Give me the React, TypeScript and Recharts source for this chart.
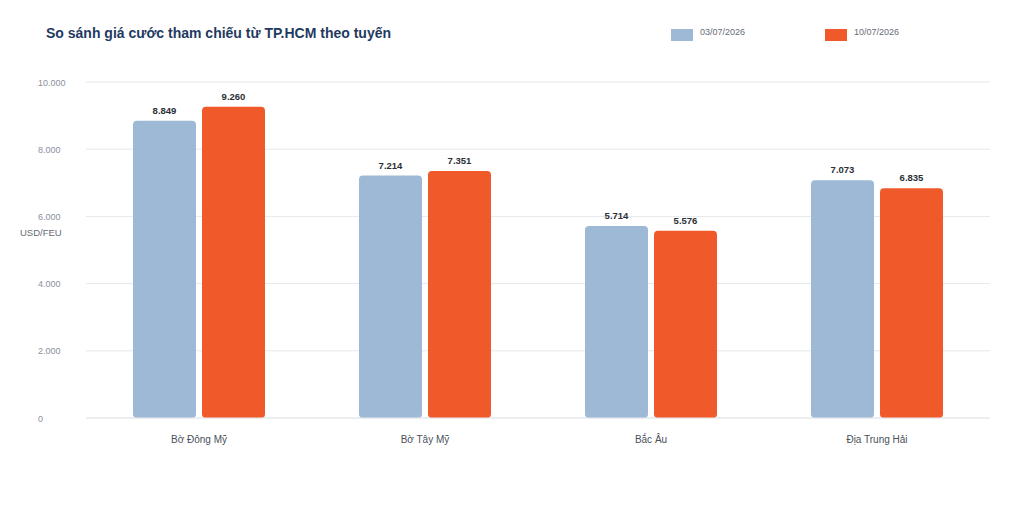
import React from "react";
import { BarChart, Bar, XAxis, YAxis, CartesianGrid, LabelList } from "recharts";

const categories = ["Bờ Đông Mỹ", "Bờ Tây Mỹ", "Bắc Âu", "Địa Trung Hải"];
const week1 = [8849, 7214, 5714, 7073];
const week2 = [9260, 7351, 5576, 6835];
const seriesNames = ["03/07/2026", "10/07/2026"];
const seriesColors = ["#9db9d6", "#f05a2a"];
const yTicks = [0, 2000, 4000, 6000, 8000, 10000];

const data = categories.map((c, i) => ({ name: c, s1: week1[i], s2: week2[i] }));

const FONT = "'Liberation Sans', Arial, Helvetica, sans-serif";
const fmt = (v: number) => v.toString().replace(/\B(?=(\d{3})+(?!\d))/g, ".");

const YTick = (props: any) => {
  const { y, payload } = props;
  return (
    <text x={38} y={y} dy={3.5} textAnchor="start" fontSize={9} fill="#8a909e" fontFamily={FONT}>
      {fmt(payload.value)}
    </text>
  );
};

export default function App() {
  return (
    <div style={{ position: "absolute", left: 0, top: 0, width: 1024, height: 512, background: "#fff", fontFamily: FONT }}>
      <div style={{ position: "absolute", left: 46, top: 25, fontSize: 14, fontWeight: 700, color: "#1f3a60", whiteSpace: "nowrap" }}>
        So sánh giá cước tham chiếu từ TP.HCM theo tuyến
      </div>
      {seriesNames.map((n, i) => (
        <div key={n} style={{ position: "absolute", left: 671 + i * 154, top: 26, display: "flex", alignItems: "flex-start" }}>
          <div style={{ width: 22, height: 12, marginTop: 3, background: seriesColors[i] }} />
          <div style={{ marginLeft: 7, fontSize: 9, color: "#666b75", lineHeight: "12px" }}>{n}</div>
        </div>
      ))}
      <div style={{ position: "absolute", left: 20, top: 227, fontSize: 9.5, color: "#666b75" }}>USD/FEU</div>
      <BarChart width={1024} height={512} data={data} margin={{ top: 82, right: 34, bottom: 64, left: 38 }} barSize={63} barGap={6}>
        <CartesianGrid vertical={false} stroke="#e6e8ec" />
        <XAxis
          dataKey="name"
          height={30}
          axisLine={{ stroke: "#e6e8ec" }}
          tickLine={false}
          tickMargin={12}
          tick={{ fontSize: 10, fill: "#4a4f5a", fontFamily: FONT }}
        />
        <YAxis
          width={48}
          domain={[0, 10000]}
          ticks={yTicks}
          axisLine={false}
          tickLine={false}
          tick={<YTick />}
        />
        <Bar dataKey="s1" name={seriesNames[0]} fill={seriesColors[0]} radius={4} isAnimationActive={false}>
          <LabelList dataKey="s1" position="top" offset={7} formatter={(v: any) => fmt(v)} style={{ fontSize: 9.5, fontWeight: 700, fill: "#2b2f36", fontFamily: FONT }} />
        </Bar>
        <Bar dataKey="s2" name={seriesNames[1]} fill={seriesColors[1]} radius={4} isAnimationActive={false}>
          <LabelList dataKey="s2" position="top" offset={7} formatter={(v: any) => fmt(v)} style={{ fontSize: 9.5, fontWeight: 700, fill: "#2b2f36", fontFamily: FONT }} />
        </Bar>
      </BarChart>
    </div>
  );
}
